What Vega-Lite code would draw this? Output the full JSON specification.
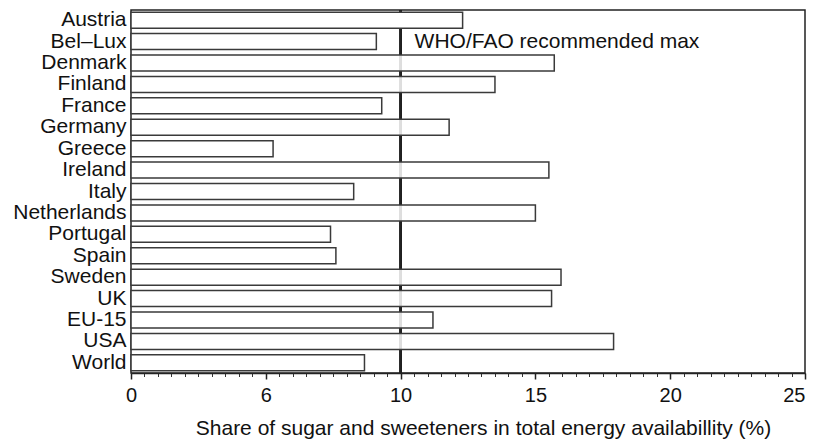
{
  "$schema": "https://vega.github.io/schema/vega-lite/v6.json",
  "width": 674,
  "height": 363,
  "autosize": {"type": "none"},
  "padding": {"left": 131, "top": 10, "right": 8, "bottom": 68},
  "background": "white",
  "config": {
    "font": "Liberation Sans",
    "view": {"stroke": "#222", "strokeWidth": 1.5}
  },
  "data": {
    "values": [
      {"country": "Austria", "share": 12.3},
      {"country": "Bel\u2013Lux", "share": 9.1},
      {"country": "Denmark", "share": 15.7},
      {"country": "Finland", "share": 13.5},
      {"country": "France", "share": 9.3},
      {"country": "Germany", "share": 11.8},
      {"country": "Greece", "share": 5.27},
      {"country": "Ireland", "share": 15.5},
      {"country": "Italy", "share": 8.26},
      {"country": "Netherlands", "share": 15.0},
      {"country": "Portugal", "share": 7.4},
      {"country": "Spain", "share": 7.6},
      {"country": "Sweden", "share": 15.95},
      {"country": "UK", "share": 15.6},
      {"country": "EU-15", "share": 11.2},
      {"country": "USA", "share": 17.9},
      {"country": "World", "share": 8.66}
    ]
  },
  "resolve": {"axis": {"x": "independent"}},
  "layer": [
    {
      "mark": {"type": "rule", "color": "#222", "strokeWidth": 1.5},
      "encoding": {
        "x": {
          "datum": 10,
          "type": "quantitative",
          "scale": {"domain": [0, 25], "nice": false},
          "axis": {
            "orient": "bottom",
            "values": [0, 0.5, 1, 1.5, 2, 2.5, 3, 3.5, 4, 4.5, 5, 5.5, 6, 6.5, 7, 7.5, 8, 8.5, 9, 9.5, 10, 10.5, 11, 11.5, 12, 12.5, 13, 13.5, 14, 14.5, 15, 15.5, 16, 16.5, 17, 17.5, 18, 18.5, 19, 19.5, 20, 20.5, 21, 21.5, 22, 22.5, 23, 23.5, 24, 24.5, 25],
            "labels": false,
            "domain": false,
            "grid": false,
            "title": null,
            "tickSize": 3.5,
            "tickColor": "#333",
            "tickWidth": 1
          }
        }
      }
    },
    {
      "mark": {"type": "bar", "fill": "white", "stroke": "#3a3a3a", "strokeWidth": 1.5},
      "encoding": {
        "y": {
          "field": "country",
          "type": "nominal",
          "scale": {
            "domain": ["Austria", "Bel\u2013Lux", "Denmark", "Finland", "France", "Germany", "Greece", "Ireland", "Italy", "Netherlands", "Portugal", "Spain", "Sweden", "UK", "EU-15", "USA", "World"],
            "paddingInner": 0.25,
            "paddingOuter": 0.1
          },
          "axis": {
            "title": null,
            "ticks": false,
            "domain": false,
            "labelFontSize": 21,
            "labelColor": "#111",
            "labelPadding": 5
          }
        },
        "x": {
          "field": "share",
          "type": "quantitative",
          "scale": {"domain": [0, 25], "nice": false},
          "axis": {
            "orient": "bottom",
            "values": [0, 5, 10, 15, 20, 25],
            "labelExpr": "datum.value == 5 ? '6' : datum.label",
            "labelFlush": false,
            "labelAlign": {"expr": "datum.value == 25 ? 'right' : 'center'"},
            "labelDx": {"expr": "datum.value == 25 ? 2 : 0"},
            "grid": false,
            "domain": true,
            "domainColor": "#222",
            "domainWidth": 1.5,
            "tickSize": 6,
            "tickColor": "#222",
            "tickWidth": 1.5,
            "labelFontSize": 20,
            "labelColor": "#111",
            "labelPadding": 6,
            "title": "Share of sugar and sweeteners in total energy availabillity (%)",
            "titleFontSize": 21,
            "titleFontWeight": "normal",
            "titleColor": "#111",
            "titlePadding": 12,
            "titleX": 352
          }
        },
        "fillOpacity": {
          "condition": {"test": "datum.country == 'Austria'", "value": 1},
          "value": 0.85
        }
      }
    },
    {
      "data": {"values": [{"label": "WHO/FAO recommended max", "x": 10, "row": "Bel\u2013Lux"}]},
      "mark": {"type": "text", "align": "left", "baseline": "middle", "fontSize": 21, "color": "#111", "dx": 14},
      "encoding": {
        "x": {"field": "x", "type": "quantitative", "axis": null},
        "y": {"field": "row", "type": "nominal"},
        "text": {"field": "label"}
      }
    }
  ]
}
